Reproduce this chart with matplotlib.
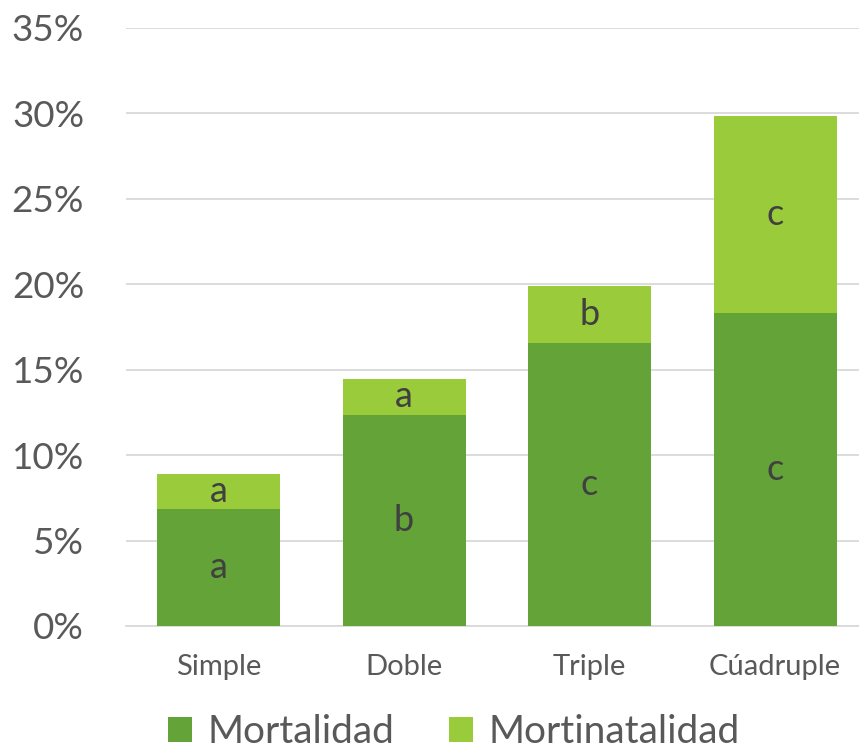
import numpy as np
import matplotlib.pyplot as plt
from matplotlib.ticker import FuncFormatter

plt.rcParams['font.family'] = ['Lato', 'DejaVu Sans']

categorias = ['Simple', 'Doble', 'Triple', 'Cúadruple']
mortalidad = [6.85, 12.35, 16.55, 18.3]
mortinatalidad = [2.05, 2.1, 3.35, 11.55]
letras_mort = ['a', 'b', 'c', 'c']
letras_mortin = ['a', 'a', 'b', 'c']

col_dark = '#63A337'
col_light = '#9ACB3B'
gris = '#595959'

fig = plt.figure(figsize=(8.59, 7.53), dpi=100)
# plot area runs a bit past the right edge, like the original
ax = fig.add_axes([0.1464, 0.1687, 0.8638, 0.7943])

x = np.arange(len(categorias))
b1 = ax.bar(x, mortalidad, width=0.663, color=col_dark, label='Mortalidad', zorder=3)
b2 = ax.bar(x, mortinatalidad, width=0.663, bottom=mortalidad, color=col_light,
            label='Mortinatalidad', zorder=3)

ax.bar_label(b1, labels=letras_mort, label_type='center', fontsize=26, color='#404040')
ax.bar_label(b2, labels=letras_mortin, label_type='center', fontsize=26, color='#404040')

ax.set_ylim(0, 35)
ax.set_xlim(-0.5, 3.5)
ax.set_yticks(np.arange(0, 36, 5))
ax.yaxis.set_major_formatter(FuncFormatter(lambda v, p: '{:.0f}%'.format(v)))
ax.set_xticks(x)
ax.set_xticklabels(categorias)

ax.grid(axis='y', color='#D9D9D9', linewidth=1.3, zorder=0)
for s in ['top', 'right', 'left']:
    ax.spines[s].set_visible(False)
ax.spines['bottom'].set_color('#D9D9D9')
ax.spines['bottom'].set_linewidth(1.3)

ax.tick_params(axis='y', length=0, labelsize=26.5, labelcolor=gris, pad=30)
ax.tick_params(axis='x', length=0, labelsize=21, labelcolor=gris, pad=20)

fig.legend(handles=[b1, b2], loc='center', bbox_to_anchor=(0.528, 0.028), ncol=2,
           frameon=False, fontsize=28, labelcolor=gris, handlelength=0.62,
           handleheight=0.62, handletextpad=0.4, columnspacing=1.4,
           borderpad=0.1)

fig.savefig('out.png', dpi=100)
